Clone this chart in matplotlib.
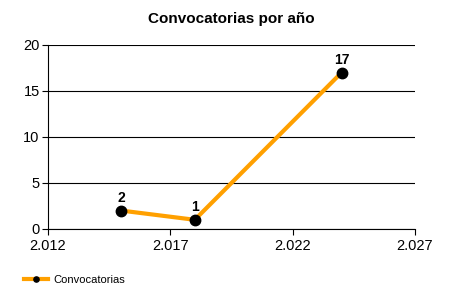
import matplotlib
matplotlib.use("Agg")
import matplotlib.pyplot as plt
from matplotlib.ticker import FuncFormatter, MultipleLocator

plt.rcParams["font.family"] = ["Liberation Sans", "DejaVu Sans"]

years = [2015, 2018, 2024]
counts = [2, 1, 17]
series_name = "Convocatorias"
title = "Convocatorias por año"
xticks = [2012, 2017, 2022, 2027]

fig = plt.figure(figsize=(4.5, 3), dpi=100)
ax = fig.add_axes([0.1067, 0.2367, 0.8153, 0.6133])

line, = ax.plot(years, counts, color="#FFA000", lw=3, marker="o",
                markersize=7.5, markerfacecolor="black", markeredgecolor="black",
                label=series_name, zorder=3)
for x, y in zip(years, counts):
    ax.annotate(str(y), (x, y), xytext=(0, 4), textcoords="offset points",
                ha="center", va="bottom", fontsize=10, fontweight="bold")

ax.set_xlim(2012, 2027)
ax.set_ylim(0, 20)
ax.set_xticks(xticks)
ax.yaxis.set_major_locator(MultipleLocator(5))
ax.xaxis.set_major_formatter(FuncFormatter(lambda v, p: f"{int(v):,}".replace(",", ".")))
ax.grid(axis="y", color="black", lw=0.8)
ax.set_axisbelow(True)
for s in ("top", "right"):
    ax.spines[s].set_visible(False)
ax.tick_params(axis="x", labelsize=10.5, length=4, direction="out", pad=3.5)
ax.tick_params(axis="y", labelsize=10.5, length=4, direction="out", pad=2)
ax.set_title(title, fontsize=11, fontweight="bold", pad=16)

fig.legend(handles=[line], loc="lower left", bbox_to_anchor=(0.03, 0.018),
           frameon=False, fontsize=8, handlelength=2.2, markerscale=0.5,
           handletextpad=0.5)
fig.savefig("out.png", dpi=100)
